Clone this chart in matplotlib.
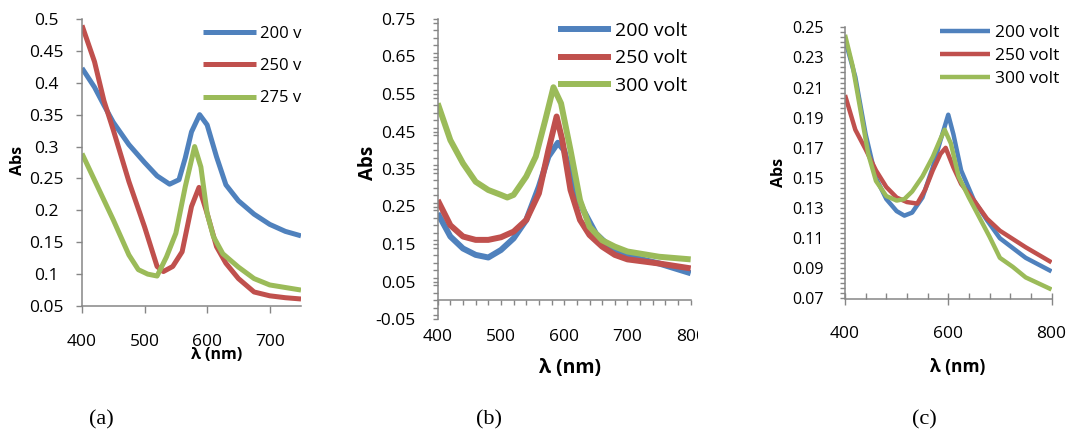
import matplotlib
matplotlib.use("Agg")
import matplotlib.pyplot as plt
from matplotlib.ticker import MultipleLocator
from matplotlib.transforms import Bbox, TransformedBbox

plt.rcParams['font.family'] = ['Open Sans', 'DejaVu Sans']
plt.rcParams['lines.solid_joinstyle'] = 'round'

W, H = 1067, 437
BLUE, RED, GREEN = '#4F81BD', '#C0504D', '#9BBB59'
AXC = '#868686'

# ---------------- data (a) ----------------
a_wl_blue = [400, 420, 435, 450, 475, 500, 520, 540, 555, 565, 575, 588, 600, 615, 630, 650, 675, 700, 725, 750]
a_200v = [0.423, 0.393, 0.365, 0.338, 0.303, 0.275, 0.254, 0.241, 0.248, 0.282, 0.323, 0.350, 0.334, 0.284, 0.240, 0.215, 0.194, 0.178, 0.167, 0.160]
a_wl_red = [400, 420, 435, 450, 475, 500, 510, 520, 530, 545, 560, 575, 587, 600, 615, 630, 650, 675, 700, 725, 750]
a_250v = [0.490, 0.433, 0.372, 0.326, 0.245, 0.174, 0.143, 0.112, 0.104, 0.112, 0.135, 0.206, 0.236, 0.195, 0.143, 0.117, 0.093, 0.072, 0.066, 0.063, 0.061]
a_wl_green = [400, 425, 450, 475, 490, 505, 520, 535, 550, 565, 580, 590, 600, 610, 625, 650, 675, 700, 725, 750]
a_275v = [0.289, 0.237, 0.185, 0.130, 0.107, 0.100, 0.097, 0.127, 0.164, 0.237, 0.300, 0.268, 0.195, 0.159, 0.132, 0.111, 0.093, 0.083, 0.079, 0.075]
a_labels = ['200 v', '250 v', '275 v']
a_xticks = [400, 500, 600, 700]
a_yticks = [0.05, 0.1, 0.15, 0.2, 0.25, 0.3, 0.35, 0.4, 0.45, 0.5]
a_yticklabels = ['0.05', '0.1', '0.15', '0.2', '0.25', '0.3', '0.35', '0.4', '0.45', '0.5']

# ---------------- data (b) ----------------
b_wl_blue = [400, 420, 440, 460, 480, 500, 520, 540, 560, 575, 590, 600, 615, 630, 650, 675, 700, 750, 800]
b_200volt = [0.232, 0.170, 0.138, 0.121, 0.114, 0.134, 0.165, 0.214, 0.303, 0.383, 0.420, 0.400, 0.303, 0.241, 0.178, 0.138, 0.118, 0.098, 0.072]
b_wl_red = [400, 420, 440, 460, 480, 500, 520, 540, 560, 575, 588, 597, 610, 625, 640, 660, 680, 700, 750, 800]
b_250volt = [0.267, 0.200, 0.170, 0.161, 0.161, 0.168, 0.183, 0.214, 0.285, 0.400, 0.490, 0.427, 0.294, 0.214, 0.174, 0.143, 0.121, 0.109, 0.098, 0.085]
b_wl_green = [400, 420, 440, 460, 480, 500, 510, 520, 540, 555, 570, 583, 595, 610, 625, 640, 660, 680, 700, 750, 800]
b_300volt = [0.525, 0.427, 0.365, 0.316, 0.294, 0.281, 0.274, 0.281, 0.330, 0.383, 0.480, 0.568, 0.525, 0.400, 0.267, 0.196, 0.160, 0.143, 0.130, 0.116, 0.109]
b_labels = ['200 volt', '250 volt', '300 volt']
b_xticks = [400, 500, 600, 700, 800]
b_yticks = [-0.05, 0.05, 0.15, 0.25, 0.35, 0.45, 0.55, 0.65, 0.75]
b_yticklabels = ['-0.05', '0.05', '0.15', '0.25', '0.35', '0.45', '0.55', '0.65', '0.75']

# ---------------- data (c) ----------------
c_wl_blue = [400, 420, 440, 460, 480, 500, 515, 530, 550, 570, 585, 600, 610, 625, 650, 675, 700, 750, 800]
c_200volt = [0.242, 0.217, 0.179, 0.150, 0.136, 0.128, 0.125, 0.127, 0.137, 0.157, 0.175, 0.192, 0.179, 0.155, 0.135, 0.122, 0.110, 0.097, 0.088]
c_wl_red = [400, 420, 440, 460, 480, 500, 520, 540, 555, 570, 585, 595, 610, 625, 650, 675, 700, 750, 800]
c_250volt = [0.205, 0.182, 0.169, 0.155, 0.144, 0.137, 0.134, 0.133, 0.142, 0.155, 0.166, 0.170, 0.157, 0.146, 0.135, 0.123, 0.115, 0.104, 0.094]
c_wl_green = [400, 415, 430, 445, 460, 480, 500, 515, 530, 550, 570, 585, 593, 605, 620, 640, 660, 680, 700, 725, 750, 800]
c_300volt = [0.245, 0.224, 0.195, 0.166, 0.148, 0.138, 0.135, 0.136, 0.141, 0.151, 0.164, 0.176, 0.182, 0.173, 0.151, 0.137, 0.124, 0.111, 0.097, 0.091, 0.084, 0.076]
c_labels = ['200 volt', '250 volt', '300 volt']
c_xticks = [400, 600, 800]
c_yticks = [0.07, 0.09, 0.11, 0.13, 0.15, 0.17, 0.19, 0.21, 0.23, 0.25]
c_yticklabels = ['0.07', '0.09', '0.11', '0.13', '0.15', '0.17', '0.19', '0.21', '0.23', '0.25']

fig = plt.figure(figsize=(W / 100, H / 100), dpi=100)


def rect(l, t, r, b):
    return [l / W, 1 - b / H, (r - l) / W, (b - t) / H]


def fx(x):
    return x / W


def fy(y):
    return 1 - y / H


def style(ax):
    for s in ['top', 'right']:
        ax.spines[s].set_visible(False)
    for s in ['left', 'bottom']:
        ax.spines[s].set_color(AXC)
        ax.spines[s].set_linewidth(1.1)
    ax.tick_params(which='both', color=AXC, width=1.0, labelcolor='black')
    ax.set_facecolor('none')


# ---------------- panel (a) ----------------
axa = fig.add_axes(rect(82, 19, 301, 306))
style(axa)
lw_a = 3.6
axa.plot(a_wl_blue, a_200v, color=BLUE, lw=lw_a, label=a_labels[0], solid_capstyle='butt')
axa.plot(a_wl_red, a_250v, color=RED, lw=lw_a, label=a_labels[1], solid_capstyle='butt')
axa.plot(a_wl_green, a_275v, color=GREEN, lw=lw_a, label=a_labels[2], solid_capstyle='butt')
axa.set_xlim(400, 750)
axa.set_ylim(0.05, 0.5)
axa.set_xticks(a_xticks, labels=[str(v) for v in a_xticks])
axa.set_yticks(a_yticks, labels=a_yticklabels)
axa.tick_params(axis='x', direction='out', length=5, pad=15, labelsize=12.5)
axa.tick_params(axis='y', direction='out', length=4, pad=22, labelsize=12.5)
for t in axa.get_yticklabels():
    t.set_ha('center')
axa.legend(loc='upper left', bbox_to_anchor=(fx(203), fy(26)), bbox_transform=fig.transFigure,
           frameon=False, fontsize=12, handlelength=3.2, handletextpad=0.25,
           labelspacing=0.97, borderpad=0, borderaxespad=0)
fig.text(fx(18), fy(160), 'Abs', rotation=90, fontsize=11.5, fontweight='bold', ha='center', va='center')
fig.text(fx(217), fy(355), 'λ (nm)', fontsize=11.5, fontweight='bold', ha='center', va='center')

# ---------------- panel (b) ----------------
axb = fig.add_axes(rect(437.7, 19, 690.7, 319))
style(axb)
lw_b = 4.3
axb.plot(b_wl_blue, b_200volt, color=BLUE, lw=lw_b, label=b_labels[0], solid_capstyle='butt')
axb.plot(b_wl_red, b_250volt, color=RED, lw=lw_b, label=b_labels[1], solid_capstyle='butt')
axb.plot(b_wl_green, b_300volt, color=GREEN, lw=lw_b, label=b_labels[2], solid_capstyle='butt')
axb.set_xlim(400, 800)
axb.set_ylim(-0.05, 0.75)
axb.spines['bottom'].set_position(('data', 0))
axb.set_xticks(b_xticks, labels=[str(v) for v in b_xticks])
axb.xaxis.set_minor_locator(MultipleLocator(20))
axb.set_yticks(b_yticks, labels=b_yticklabels)
axb.yaxis.set_minor_locator(MultipleLocator(0.02))
axb.tick_params(axis='x', which='both', direction='out', length=3.5, pad=17.5, labelsize=12.5)
axb.tick_params(axis='y', which='both', direction='out', length=3.5, pad=12.5, labelsize=12.5)
axb.legend(loc='upper left', bbox_to_anchor=(fx(558), fy(22)), bbox_transform=fig.transFigure,
           frameon=False, fontsize=14, handlelength=2.75, handletextpad=0.2,
           labelspacing=0.48, borderpad=0, borderaxespad=0)
fig.text(fx(368), fy(163), 'Abs', rotation=90, fontsize=13.5, fontweight='bold', ha='center', va='center')
fig.text(fx(570), fy(368), 'λ (nm)', fontsize=14, fontweight='bold', ha='center', va='center')

# ---------------- panel (c) ----------------
axc = fig.add_axes(rect(845, 27.3, 1051.5, 298.5))
style(axc)
lw_c = 3.2
axc.plot(c_wl_blue, c_200volt, color=BLUE, lw=lw_c, label=c_labels[0], solid_capstyle='butt')
axc.plot(c_wl_red, c_250volt, color=RED, lw=lw_c, label=c_labels[1], solid_capstyle='butt')
axc.plot(c_wl_green, c_300volt, color=GREEN, lw=lw_c, label=c_labels[2], solid_capstyle='butt')
axc.set_xlim(400, 800)
axc.set_ylim(0.07, 0.25)
axc.set_xticks(c_xticks, labels=[str(v) for v in c_xticks])
axc.xaxis.set_minor_locator(MultipleLocator(40))
axc.set_yticks(c_yticks, labels=c_yticklabels)
axc.yaxis.set_minor_locator(MultipleLocator(0.02 / 6))
axc.tick_params(axis='x', which='major', direction='inout', length=8, pad=16, labelsize=12.5)
axc.tick_params(axis='x', which='minor', direction='in', length=4)
axc.tick_params(axis='y', which='both', direction='out', length=3.5, pad=12, labelsize=11.5)
axc.legend(loc='upper left', bbox_to_anchor=(fx(940), fy(25)), bbox_transform=fig.transFigure,
           frameon=False, fontsize=12.5, handlelength=2.9, handletextpad=0.25,
           labelspacing=0.38, borderpad=0, borderaxespad=0)
fig.text(fx(779), fy(172), 'Abs', rotation=90, fontsize=11.5, fontweight='bold', ha='center', va='center')
fig.text(fx(958), fy(367), 'λ (nm)', fontsize=12.5, fontweight='bold', ha='center', va='center')

# panel letters
for x, s in [(101, '(a)'), (489, '(b)'), (924, '(c)')]:
    fig.text(fx(x), fy(420), s, fontsize=16, family='Liberation Serif', ha='center', va='center')

# clip the last x label of panel (b) like the original
clipbox = TransformedBbox(Bbox.from_extents(0, 0, fx(698), 1), fig.transFigure)
for t in axb.get_xticklabels():
    if t.get_text() == '800':
        t.set_clip_on(True)
        t.set_clip_box(clipbox)

fig.savefig('out.png', dpi=100)
